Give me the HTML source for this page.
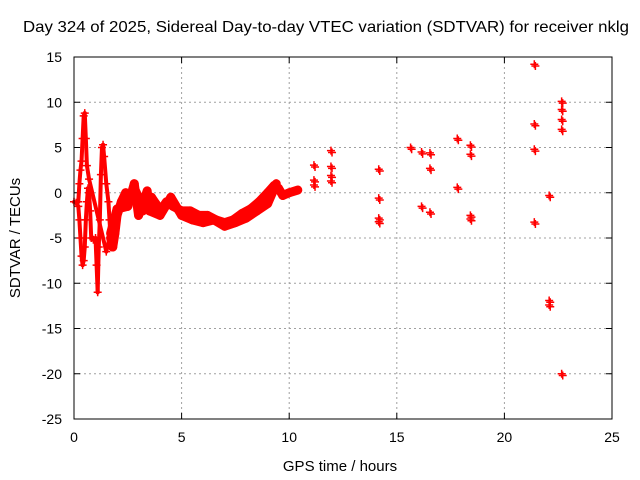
<!DOCTYPE html>
<html><head><meta charset="utf-8"><style>
body{margin:0;background:#fff}
svg{display:block;font-family:"Liberation Sans",sans-serif}
</style></head><body>
<svg id="chart" width="640" height="480" viewBox="0 0 640 480">
<rect width="640" height="480" fill="#fff"/>
<text x="326" y="32" font-size="16" text-anchor="middle" textLength="606" lengthAdjust="spacingAndGlyphs">Day 324 of 2025, Sidereal Day-to-day VTEC variation (SDTVAR) for receiver nklg</text>
<g id="grid"></g>
<g id="axes"></g>
<g id="marks"></g>
<rect x="74" y="57" width="538" height="362" fill="none" stroke="#000" stroke-width="1"/>
<text x="340" y="471" font-size="15" text-anchor="middle">GPS time / hours</text>
<text x="20" y="238" font-size="15" text-anchor="middle" transform="rotate(-90 20 238)">SDTVAR / TECUs</text>
</svg>
<script>
const xTicks=[0,5,10,15,20,25];
const yTicks=[15,10,5,0,-5,-10,-15,-20,-25];
const bandX=[0,0.1,0.2,0.25,0.3,0.35,0.4,0.45,0.5,0.55,0.6,0.65,0.7,0.75,0.8,0.9,1.0,1.05,1.1,1.15,1.2,1.25,1.3,1.35,1.4,1.5,1.6,1.65,1.7,1.8,1.9,2.0,2.2,2.4,2.6,2.8,3.0,3.2,3.4,3.6,3.8,4.0,4.3,4.6,5.0,5.4,5.8,6.2,6.6,7.0,7.4,7.8,8.2,8.6,9.0,9.3,9.5,9.7,10.0,10.4];
const bandY=[-1,-1.1,-1.5,-3,-5,-7,-8,-7.5,-6,-3,-1,0.5,0,-2,-5,-5.2,-5,-8,-11,-6,-3,2,5,5.3,4,1,-1,-3,-5,-6,-4.5,-2.5,-1,0,-0.5,0.5,-0.5,-2,-1,-0.5,-1.2,-2,-1,-1.5,-2,-2,-2.5,-2.5,-3,-3.3,-3,-2.3,-1.8,-1,0,0.8,0.5,-0.3,0,0.3];
const band2X=[0.2,0.25,0.3,0.35,0.4,0.45,0.5,0.55,0.6,0.7,1.5,1.7,2.0,2.5,2.8,3.0,3.4,3.5,4.0,4.5,5.0,5.5,6.0,6.5,7.0,7.5,8.0,8.5,9.0,9.4];
const band2Y=[-1,1,2.5,3.5,6,8.5,8.8,6,3,1.5,-6.5,-4.5,-1.8,-1.5,1,-2.5,0.2,-2,-2.5,-0.5,-2.5,-3,-3.3,-3,-3.7,-3.3,-2.8,-2,-1.2,1];
const ptX=[11.15,11.15,11.15,11.94,11.94,11.94,11.94,14.16,14.16,14.16,14.16,15.64,16.15,16.54,16.54,16.15,16.54,17.81,17.81,18.42,18.42,18.42,18.42,21.39,21.39,21.39,21.39,22.08,22.08,22.08,22.66,22.66,22.66,22.66,22.66];
const ptY=[3.05,1.4,0.85,4.65,2.9,1.9,1.3,2.6,-0.6,-2.8,-3.2,5.0,4.5,4.4,2.7,-1.5,-2.15,6.0,0.6,5.25,4.25,-2.5,-2.9,14.2,7.6,4.8,-3.25,-0.3,-11.9,-12.4,10.1,9.2,8.1,7.0,-20.0];
const X=v=>74+v*538/25, Y=v=>57+(15-v)*362/40;
const NS="http://www.w3.org/2000/svg";
const grid=document.getElementById('grid'),axes=document.getElementById('axes'),marks=document.getElementById('marks');
function mk(tag,a,p){const e=document.createElementNS(NS,tag);for(const k in a)e.setAttribute(k,a[k]);p.appendChild(e);return e;}
xTicks.forEach(t=>{
 if(t>0&&t<25){const g=mk('line',{x1:X(t),x2:X(t),y1:57,y2:419,stroke:'#a0a0a0','stroke-dasharray':'2,3'},grid);
 
 }
 const tk=mk('path',{d:`M${X(t)} 419v-6M${X(t)} 57v6`,stroke:'#000'},axes);
 
 
 const l=mk('text',{x:X(t),y:442,'font-size':14,'text-anchor':'middle'},axes);l.textContent=t;
 
 
});
yTicks.forEach(t=>{
 if(t<15&&t>-25){const g=mk('line',{x1:74,x2:612,y1:Y(t),y2:Y(t),stroke:'#a0a0a0','stroke-dasharray':'2,3'},grid);
 
 }
 const tk=mk('path',{d:`M74 ${Y(t)}h6M612 ${Y(t)}h-6`,stroke:'#000'},axes);
 
 
 const l=mk('text',{x:62,y:Y(t)+5,'font-size':14,'text-anchor':'end'},axes);l.textContent=t;
 
 
});
function band(xs,ys,name){
 for(let i=1;i<xs.length;i++){
  const w=xs[i]<1.8?4:9;
  const s=mk('line',{x1:X(xs[i-1]),y1:Y(ys[i-1]),x2:X(xs[i]),y2:Y(ys[i]),stroke:'#f00','stroke-width':w,'stroke-linecap':'round'},marks);
  
  
 }
}
band(bandX,bandY,'sdtvar-band-main');
band(band2X,band2Y,'sdtvar-band-secondary');
function cross(x,y){
 const c=mk('path',{d:`M${X(x)-4} ${Y(y)}h8M${X(x)} ${Y(y)-4}v8`,stroke:'#f00','stroke-width':1.5},marks);
 
 
}
bandX.forEach((x,i)=>cross(x,bandY[i]));
band2X.forEach((x,i)=>cross(x,band2Y[i]));
ptX.forEach((x,i)=>{cross(x,ptY[i]);cross(x+0.05,ptY[i]-0.2);});
</script>
</body></html>
